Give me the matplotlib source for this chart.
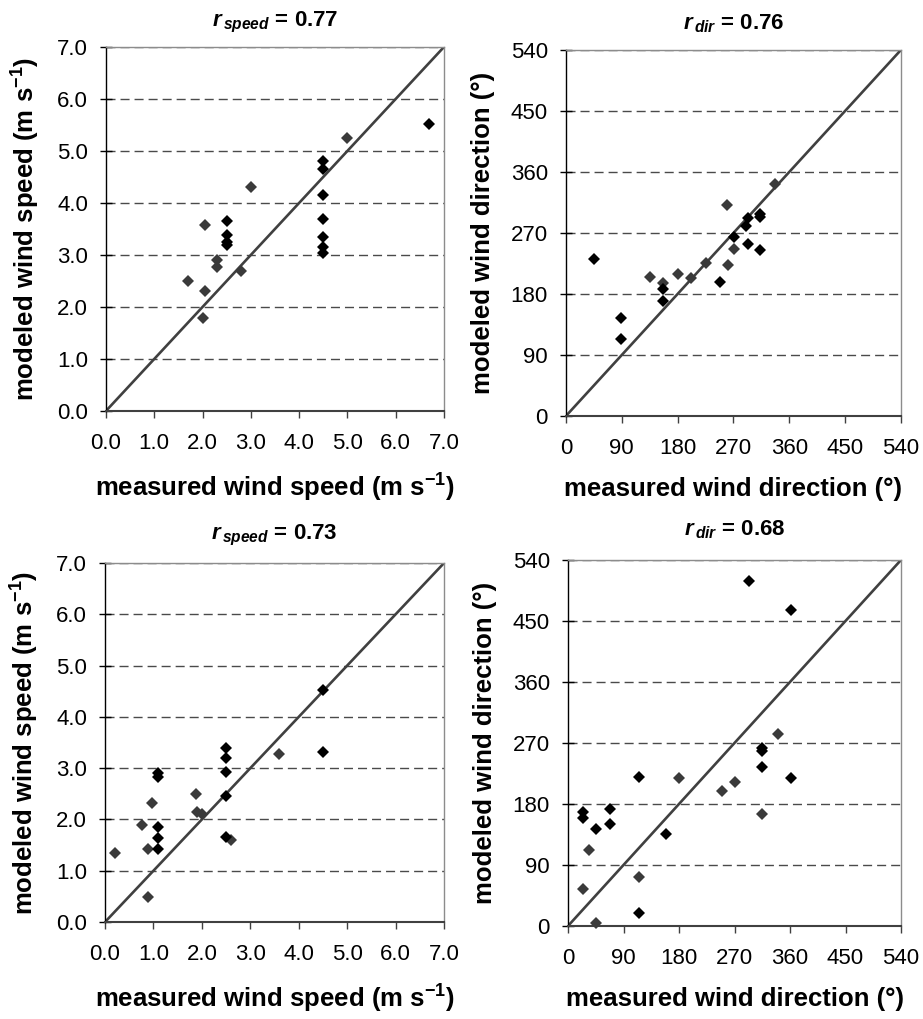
import numpy as np
import matplotlib
matplotlib.use('Agg')
import matplotlib.pyplot as plt
from matplotlib.ticker import MultipleLocator, FormatStrFormatter

plt.rcParams['font.family'] = ['Liberation Sans', 'DejaVu Sans']
plt.rcParams['mathtext.fontset'] = 'custom'
plt.rcParams['mathtext.rm'] = 'Liberation Sans'
plt.rcParams['mathtext.it'] = 'Liberation Sans:italic'
plt.rcParams['mathtext.bf'] = 'Liberation Sans:bold'
plt.rcParams['mathtext.bfit'] = 'Liberation Sans:italic:bold'

# -----------------------------------------------------------------------------
# data: set 1 = black diamonds, set 2 = dark grey diamonds
# -----------------------------------------------------------------------------
# top row, wind speed (m/s)
spd1_meas_a = [2.5, 2.5, 2.5, 2.5, 4.5, 4.5, 4.5, 4.5, 4.5, 4.5, 4.5, 6.7]
spd1_mod_a = [3.65, 3.38, 3.25, 3.19, 4.81, 4.65, 4.15, 3.69, 3.34, 3.16, 3.03, 5.52]
spd1_meas_b = [1.7, 2.05, 2.0, 2.05, 2.3, 2.3, 2.8, 3.0, 5.0]
spd1_mod_b = [2.5, 2.3, 1.78, 3.58, 2.9, 2.77, 2.7, 4.3, 5.25]

# top row, wind direction (deg)
dir1_meas_a = [45, 88, 88, 157, 157, 248, 271, 293, 291, 294, 313, 313, 313]
dir1_mod_a = [232, 144, 113, 187, 170, 197, 264, 292, 280, 253, 298, 293, 245]
dir1_meas_b = [135, 157, 180, 201, 225, 259, 261, 271, 337]
dir1_mod_b = [205, 196, 210, 203, 226, 311, 223, 247, 342]

# bottom row, wind speed (m/s)
spd2_meas_a = [1.1, 1.1, 1.1, 1.1, 1.1, 2.5, 2.5, 2.5, 2.5, 2.5, 4.5, 4.5]
spd2_mod_a = [1.42, 1.63, 1.86, 2.9, 2.82, 3.39, 3.2, 2.92, 2.45, 1.66, 4.53, 3.31]
spd2_meas_b = [0.2, 0.88, 0.88, 0.76, 0.98, 1.88, 1.9, 2.0, 2.6, 3.6]
spd2_mod_b = [1.35, 0.48, 1.42, 1.9, 2.32, 2.49, 2.15, 2.1, 1.59, 3.28]

# bottom row, wind direction (deg)
dir2_meas_a = [294, 361, 314, 314, 314, 361, 115, 159, 115, 68, 68, 45, 24, 24]
dir2_mod_a = [509, 466, 262, 258, 234, 218, 220, 135, 19, 172, 151, 143, 168, 159]
dir2_meas_b = [341, 314, 271, 250, 180, 115, 34, 24, 45]
dir2_mod_b = [283, 165, 212, 199, 218, 72, 112, 54, 4]

r_values = [0.77, 0.76, 0.73, 0.68]

BLACK = '#000000'
GREY = '#3a3a3a'


def style_panel(ax, vmax, step, fmt, title, title_pad, xlabel, ylabel):
    ax.set_xlim(0, vmax)
    ax.set_ylim(0, vmax)
    ax.xaxis.set_major_locator(MultipleLocator(step))
    ax.yaxis.set_major_locator(MultipleLocator(step))
    ax.xaxis.set_major_formatter(FormatStrFormatter(fmt))
    ax.yaxis.set_major_formatter(FormatStrFormatter(fmt))
    ax.tick_params(axis='x', direction='out', length=4.8, width=1,
                   color='#404040', labelsize=16, pad=11)
    ax.tick_params(axis='y', direction='inout', length=9, width=1,
                   color='#000000', labelsize=16, pad=8.5)
    ax.grid(axis='y', color='#4a4a4a', lw=1, linestyle=(0, (6.5, 3.6)))
    ax.grid(axis='x', visible=False)
    ax.set_axisbelow(True)
    ax.spines['left'].set_color('#000000')
    ax.spines['left'].set_linewidth(1)
    ax.spines['bottom'].set_color('#404040')
    ax.spines['bottom'].set_linewidth(1.5)
    for s in ('top', 'right'):
        ax.spines[s].set_color('#8c8c8c')
        ax.spines[s].set_linewidth(1)
    ax.plot([0, vmax], [0, vmax], color='#404040', lw=1.9, zorder=2)
    ax.set_title(title, fontsize=16, fontweight='bold', pad=title_pad)
    ax.set_xlabel(xlabel, fontsize=18.5, fontweight='bold', labelpad=13)
    ax.set_ylabel(ylabel, fontsize=18.5, fontweight='bold', labelpad=11)


fig = plt.figure(figsize=(9.23, 10.19), dpi=100)
ax1 = fig.add_axes([0.1148, 0.5967, 0.3662, 0.3572])
ax2 = fig.add_axes([0.6132, 0.5918, 0.3629, 0.3592])
ax3 = fig.add_axes([0.1138, 0.0952, 0.3673, 0.3523])
ax4 = fig.add_axes([0.6154, 0.0913, 0.3608, 0.3592])

spd_x = r'measured wind speed (m s$^{\mathbf{-1}}$)'
spd_y = r'modeled wind speed (m s$^{\mathbf{-1}}$)'
dir_x = 'measured wind direction (°)'
dir_y = 'modeled wind direction (°)'

panels = [
    (ax1, spd1_meas_a, spd1_mod_a, spd1_meas_b, spd1_mod_b, 7.0, 1.0, '%.1f',
     r'$\mathbfit{r}_{\,\mathbfit{speed}}$' + f' = {r_values[0]:.2f}', 14.5, spd_x, spd_y),
    (ax2, dir1_meas_a, dir1_mod_a, dir1_meas_b, dir1_mod_b, 540, 90, '%d',
     r'$\mathbfit{r}_{\,\mathbfit{dir}}$' + f' = {r_values[1]:.2f}', 14.5, dir_x, dir_y),
    (ax3, spd2_meas_a, spd2_mod_a, spd2_meas_b, spd2_mod_b, 7.0, 1.0, '%.1f',
     r'$\mathbfit{r}_{\,\mathbfit{speed}}$' + f' = {r_values[2]:.2f}', 17, spd_x, spd_y),
    (ax4, dir2_meas_a, dir2_mod_a, dir2_meas_b, dir2_mod_b, 540, 90, '%d',
     r'$\mathbfit{r}_{\,\mathbfit{dir}}$' + f' = {r_values[3]:.2f}', 18, dir_x, dir_y),
]

for ax, xa, ya, xb, yb, vmax, step, fmt, title, tpad, xl, yl in panels:
    style_panel(ax, vmax, step, fmt, title, tpad, xl, yl)
    ax.plot(xb, yb, linestyle='none', marker='D', ms=6.5, mew=0,
            color=GREY, zorder=3, clip_on=False)
    ax.plot(xa, ya, linestyle='none', marker='D', ms=6.5, mew=0,
            color=BLACK, zorder=4, clip_on=False)

fig.savefig('out.png', dpi=100)
